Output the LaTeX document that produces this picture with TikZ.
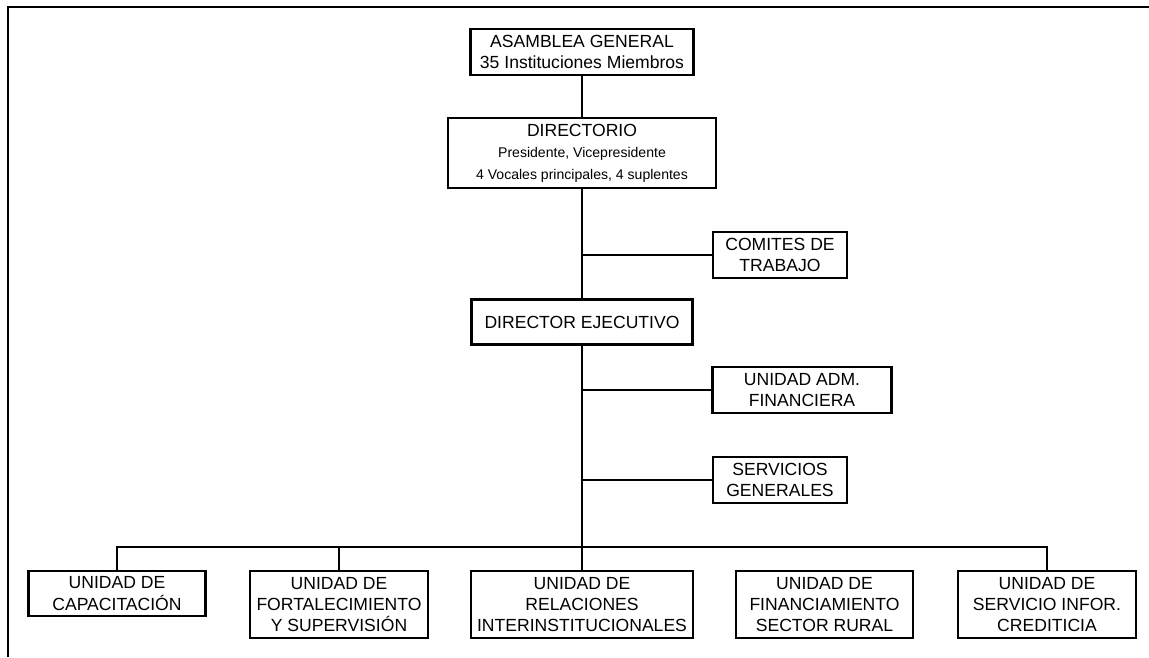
\documentclass[tikz,border=0pt]{standalone}
\usepackage{fontspec}
\setmainfont{Liberation Sans}
\usetikzlibrary{calc}

\tikzset{
	caja/.style={shape=rectangle, draw, line width=1.3pt, align=center, inner sep=1pt,
		font=\fontsize{10}{12.2}\selectfont},
	linea/.style={line width=1.2pt}
}
\newcommand{\chico}{\fontsize{8}{12}\selectfont}

\begin{document}
\begin{tikzpicture}[x=0.02cm, y=-0.02cm]
		\useasboundingbox (0,0) rectangle (1149,657);

		% Marco
		\draw[line width=1.6pt] (8,657) -- (8,7) -- (1149,7);

		% Direccion
		\node[caja, minimum width=4.46cm, minimum height=0.92cm] (asamblea) at (582, 52){ASAMBLEA GENERAL\\35 Instituciones Miembros};
		\node[caja, minimum width=5.36cm, minimum height=1.40cm] (directorio) at (582, 153){DIRECTORIO\\{\chico Presidente, Vicepresidente}\\{\chico 4 Vocales principales, 4 suplentes}};
		\node[caja, minimum width=2.68cm, minimum height=0.92cm] (comites) at (780, 255){COMITES DE\\TRABAJO};
		\node[caja, minimum width=4.42cm, minimum height=0.90cm] (ejecutivo) at (582, 322){DIRECTOR EJECUTIVO};
		\node[caja, minimum width=3.58cm, minimum height=0.92cm] (adm) at (802, 390){UNIDAD ADM.\\FINANCIERA};
		\node[caja, minimum width=2.68cm, minimum height=0.92cm] (servicios) at (780, 480){SERVICIOS\\GENERALES};

		% Unidades
		\node[caja, minimum width=3.54cm, minimum height=0.90cm] (capacitacion) at (117, 593.5){UNIDAD DE\\CAPACITACIÓN};
		\node[caja, minimum width=3.56cm, minimum height=1.34cm] (fortalecimiento) at (339, 604.5){UNIDAD DE\\FORTALECIMIENTO\\Y SUPERVISIÓN};
		\node[caja, minimum width=4.44cm, minimum height=1.34cm] (relaciones) at (582, 604.5){UNIDAD DE\\RELACIONES\\INTERINSTITUCIONALES};
		\node[caja, minimum width=3.54cm, minimum height=1.34cm] (financiamiento) at (824.5, 604.5){UNIDAD DE\\FINANCIAMIENTO\\SECTOR RURAL};
		\node[caja, minimum width=3.56cm, minimum height=1.34cm] (credito) at (1047, 604.5){UNIDAD DE\\SERVICIO INFOR.\\CREDITICIA};

		\coordinate (bus) at (582, 547);

		\draw[linea] (asamblea) to (directorio);
		\draw[linea] (directorio) to (ejecutivo);
		\draw[linea] (ejecutivo) to (relaciones);
		\draw[linea] (comites.west) to (comites.west -| ejecutivo.south);
		\draw[linea] (adm.west) to (adm.west -| ejecutivo.south);
		\draw[linea] (servicios.west) to (servicios.west -| ejecutivo.south);
		\draw[linea] (capacitacion.north) |- (bus) -| (credito.north);
		\draw[linea] (fortalecimiento.north) to (fortalecimiento.north |- bus);
	\end{tikzpicture}
\end{document}
